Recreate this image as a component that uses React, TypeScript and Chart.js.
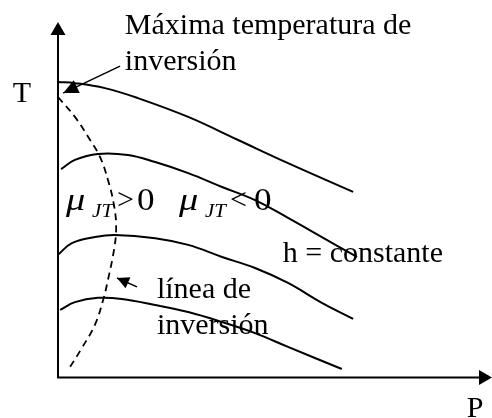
import React, { useEffect, useRef } from "react";
import { Chart, registerables } from "chart.js";

Chart.register(...registerables);

// Isenthalpic curves (h = constante), P vs T in arbitrary units
const curve1P = [0, 0.39, 1.08, 1.84, 3.0, 4.15, 5.3, 6.8];
const curve1T = [8.31, 8.28, 8.14, 7.86, 7.33, 6.68, 6.03, 5.22];

const curve2P = [0.07, 0.39, 0.92, 1.61, 2.24, 3.0, 3.78, 4.54, 5.3, 6.08, 6.89];
const curve2T = [5.86, 6.12, 6.29, 6.26, 6.06, 5.75, 5.36, 4.99, 4.49, 3.95, 3.39];

const curve3P = [0, 0.32, 0.85, 1.31, 2.24, 3.0, 3.78, 4.54, 5.3, 6.08, 6.8];
const curve3T = [3.45, 3.78, 3.95, 4.01, 3.92, 3.73, 3.39, 3.08, 2.66, 2.1, 1.65];

const curve4P = [0.05, 0.39, 0.92, 1.47, 2.24, 3.0, 3.78, 4.54, 5.3, 6.54];
const curve4T = [1.9, 2.12, 2.24, 2.21, 2.04, 1.84, 1.56, 1.25, 0.86, 0.24];

// Inversion line (dashed)
const inversionP = [0, 0.39, 0.74, 0.97, 1.15, 1.29, 1.34, 1.29, 1.15, 1.04, 0.85, 0.55, 0.28];
const inversionT = [7.89, 7.33, 6.68, 6.2, 5.56, 4.85, 4.21, 3.59, 2.74, 2.18, 1.48, 0.83, 0.3];

const P_MAX = 10;
const T_MAX = 10;

// Text labels (text, P, T)
const labelTexts = ["Máxima temperatura de", "inversión", "T", "h = constante", "línea de", "inversión", "P"];
const labelP = [1.54, 1.54, -1.04, 5.18, 2.28, 2.28, 9.42];
const labelT = [9.66, 8.65, 7.75, 3.25, 2.24, 1.22, -1.11];

// mu_JT labels
const muSigns = [">", "<"];
const muValue = ["0", "0"];
const muP = [0.21, 2.81];
const muT = [4.72, 4.72];

// Annotation arrows: from (P,T) to tip (P,T)
const arrowFromP = [1.43, 1.82];
const arrowFromT = [8.76, 2.55];
const arrowToP = [0.12, 1.36];
const arrowToT = [8.0, 2.8];

const FONT = '"Liberation Serif", "Times New Roman", serif';

const zip = (xs: number[], ys: number[]) => xs.map((x, i) => ({ x, y: ys[i] }));

function drawHead(ctx: CanvasRenderingContext2D, tx: number, ty: number, fx: number, fy: number, len: number, half: number) {
  const dx = fx - tx;
  const dy = fy - ty;
  const d = Math.hypot(dx, dy) || 1;
  const ux = dx / d;
  const uy = dy / d;
  const bx = tx + ux * len;
  const by = ty + uy * len;
  ctx.beginPath();
  ctx.moveTo(tx, ty);
  ctx.lineTo(bx - uy * half, by + ux * half);
  ctx.lineTo(bx + uy * half, by - ux * half);
  ctx.closePath();
  ctx.fill();
}

function stretchedText(ctx: CanvasRenderingContext2D, text: string, x: number, y: number, font: string, sx: number) {
  ctx.save();
  ctx.translate(x, y);
  ctx.scale(sx, 1);
  ctx.font = font;
  ctx.fillText(text, 0, 0);
  ctx.restore();
}

const overlayPlugin = {
  id: "overlay",
  afterDatasetsDraw(chart: any) {
    const ctx: CanvasRenderingContext2D = chart.ctx;
    const xs = chart.scales.x;
    const ys = chart.scales.y;
    const px = (v: number) => xs.getPixelForValue(v);
    const py = (v: number) => ys.getPixelForValue(v);
    ctx.save();
    ctx.strokeStyle = "#000";
    ctx.fillStyle = "#000";
    ctx.lineWidth = 2;
    ctx.setLineDash([]);
    const x0 = px(0);
    const y0 = py(0);
    const xEnd = px(P_MAX);
    const yEnd = py(T_MAX);
    // axes
    ctx.beginPath();
    ctx.moveTo(x0, y0 + 1);
    ctx.lineTo(x0, yEnd + 8);
    ctx.moveTo(x0 - 1, y0);
    ctx.lineTo(xEnd - 8, y0);
    ctx.stroke();
    drawHead(ctx, x0, yEnd, x0, y0, 13, 7.5);
    drawHead(ctx, xEnd, y0, x0, y0, 13, 7.5);

    // annotation arrows
    ctx.lineWidth = 1.5;
    for (let i = 0; i < arrowFromP.length; i++) {
      const fx = px(arrowFromP[i]);
      const fy = py(arrowFromT[i]);
      const tx = px(arrowToP[i]);
      const ty = py(arrowToT[i]);
      ctx.beginPath();
      ctx.moveTo(fx, fy);
      ctx.lineTo(tx, ty);
      ctx.stroke();
      drawHead(ctx, tx, ty, fx, fy, i === 0 ? 15 : 12, i === 0 ? 7 : 6);
    }

    // labels
    ctx.textBaseline = "alphabetic";
    ctx.textAlign = "left";
    ctx.font = `30px ${FONT}`;
    for (let i = 0; i < labelTexts.length; i++) {
      ctx.fillText(labelTexts[i], px(labelP[i]), py(labelT[i]));
    }

    // mu_JT labels (equation-object style)
    for (let i = 0; i < muSigns.length; i++) {
      const bx = px(muP[i]);
      const by = py(muT[i]);
      stretchedText(ctx, "μ", bx - 1, by, `italic 32px ${FONT}`, 1.2);
      stretchedText(ctx, "JT", bx + 25, by + 7, `italic 19px ${FONT}`, 1.1);
      stretchedText(ctx, muSigns[i], bx + 50, by - 1, `30px ${FONT}`, 1.0);
      stretchedText(ctx, muValue[i], bx + (i === 0 ? 70 : 74), by, `32px ${FONT}`, 1.1);
    }
    ctx.restore();
  },
};

export default function App() {
  const ref = useRef<HTMLCanvasElement | null>(null);
  useEffect(() => {
    if (!ref.current) return;
    const solid = (data: { x: number; y: number }[]) => ({
      data,
      borderColor: "#000",
      borderWidth: 2,
      pointRadius: 0,
      showLine: true,
      tension: 0.4,
      fill: false,
      clip: false as any,
    });
    const chart = new Chart(ref.current, {
      type: "scatter",
      data: {
        datasets: [
          solid(zip(curve1P, curve1T)),
          solid(zip(curve2P, curve2T)),
          solid(zip(curve3P, curve3T)),
          solid(zip(curve4P, curve4T)),
          {
            ...solid(zip(inversionP, inversionT)),
            borderWidth: 1.8,
            borderDash: [7, 5],
          },
        ],
      },
      options: {
        responsive: false,
        animation: false,
        layout: { padding: { left: 58, right: 0, top: 22, bottom: 40.5 } },
        plugins: { legend: { display: false }, tooltip: { enabled: false } },
        scales: {
          x: { type: "linear", min: 0, max: P_MAX, display: false },
          y: { type: "linear", min: 0, max: T_MAX, display: false },
        },
      },
      plugins: [overlayPlugin],
    });
    return () => chart.destroy();
  }, []);
  return (
    <div style={{ position: "fixed", left: 0, top: 0, width: 492, height: 418, background: "#fff" }}>
      <canvas ref={ref} width={492} height={418} style={{ display: "block" }} />
    </div>
  );
}
